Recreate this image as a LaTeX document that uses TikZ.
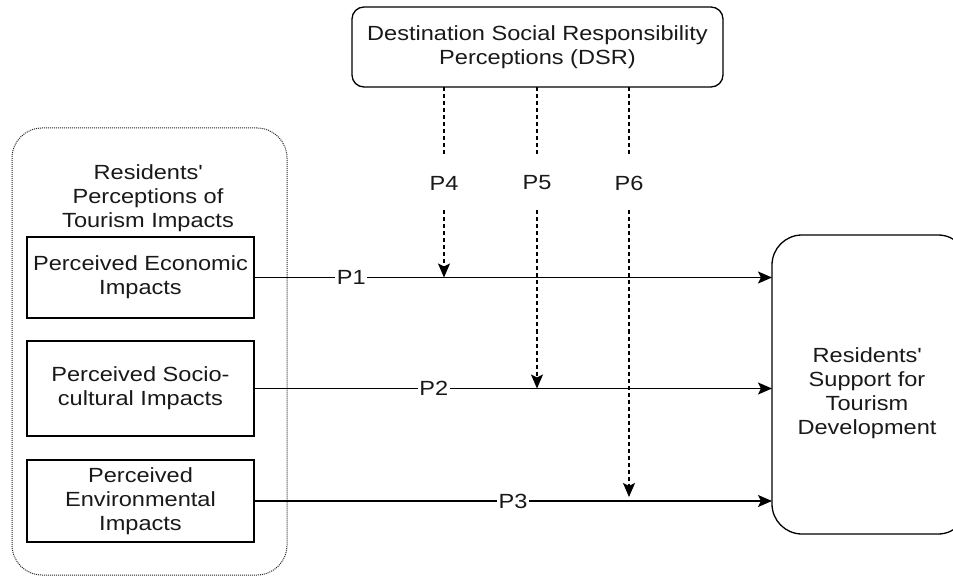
\documentclass[tikz,border=0pt]{standalone}
\usepackage{fontspec}
\setmainfont{Liberation Sans}[FakeStretch=1.15]
\usetikzlibrary{arrows.meta}
\tikzset{>={Stealth[length=14pt,width=12pt,inset=3pt]}}
\begin{document}
\begin{tikzpicture}[x=1pt,y=-1pt,
  font=\fontsize{20.5}{24}\selectfont,
  every node/.style={text=black!90},
  boxnode/.style={draw, line width=1.3pt, inner sep=0pt, outer sep=0pt, align=center},
  groupbox/.style={draw=black!85, dash pattern=on 1pt off 1pt, line width=1pt, rounded corners=30pt, inner sep=0pt, outer sep=0pt},
  plabel/.style={inner sep=0pt, outer sep=0pt, minimum height=55pt, align=center},
  hlabel/.style={fill=white, inner sep=1.5pt},
  mainarrow/.style={line width=1.4pt, ->},
  modarrow/.style={line width=1.3pt, dash pattern=on 4pt off 3pt, ->},
  modline/.style={line width=1.3pt, dash pattern=on 4pt off 3pt}]
\clip (0,0) rectangle (953,577);
\useasboundingbox (0,0) rectangle (953,577);

% left group
\node[groupbox, minimum width=275pt, minimum height=447pt] (group) at (149.5,351.5) {};
\node[align=center, inner sep=0pt] (grouplabel) at (148,198) {Residents\textquotesingle\\Perceptions of\\Tourism Impacts};

\node[boxnode, minimum width=227pt, minimum height=81pt] (eco) at (140.5,277.5) {Perceived Economic\\Impacts};
\node[boxnode, minimum width=227pt, minimum height=95pt] (soc) at (140.5,388.5) {Perceived Socio-\\cultural Impacts};
\node[boxnode, minimum width=227pt, minimum height=82pt] (env) at (140.5,501) {Perceived\\Environmental\\Impacts};

% DSR
\node[boxnode, rounded corners=12pt, minimum width=371pt, minimum height=80pt] (dsr) at (537.5,47) {Destination Social Responsibility\\Perceptions (DSR)};

% right box
\node[boxnode, rounded corners=30pt, minimum width=196pt, minimum height=299pt] (sup) at (870,384.5) {};
\node[align=center, inner sep=0pt] (suptext) at (867,393) {Residents\textquotesingle\\Support for\\Tourism\\Development};

% main arrows
\draw[mainarrow] (eco.east) -- node[hlabel, pos=0.188] {P1} (eco.east -| sup.west);
\draw[mainarrow] (soc.east) -- node[hlabel, pos=0.347] {P2} (soc.east -| sup.west);
\draw[mainarrow] (env.east) -- node[hlabel, pos=0.50] {P3} (env.east -| sup.west);

% moderator labels
\node[plabel] (p4) at (444,183) {P4};
\node[plabel] (p5) at (537,183) {P5};
\node[plabel] (p6) at (629,183) {P6};

\coordinate (t4) at (p4.south |- eco.east);
\coordinate (t5) at (p5.south |- soc.east);
\coordinate (t6) at (p6.south |- env.east);

\draw[modline] (p4.north |- dsr.south) -- (p4.north);
\draw[modline] (p5.north |- dsr.south) -- (p5.north);
\draw[modline] (p6.north |- dsr.south) -- (p6.north);
\draw[modarrow] (p4.south) -- (t4);
\draw[modarrow] (p5.south) -- (t5);
\draw[modarrow] (p6.south) -- ([yshift=4pt]t6);
\end{tikzpicture}
\end{document}
